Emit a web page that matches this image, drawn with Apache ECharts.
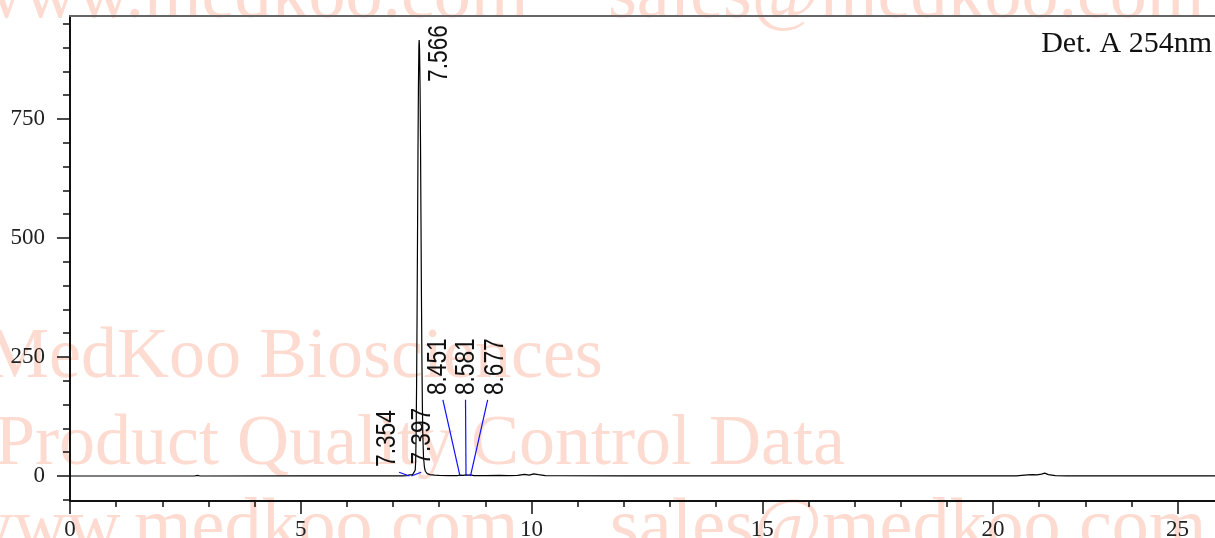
<!DOCTYPE html>
<html><head><meta charset="utf-8">
<script src="https://cdn.jsdelivr.net/npm/echarts@6/dist/echarts.min.js"></script>
<style>html,body{margin:0;padding:0;background:#fff}#c{width:1215px;height:538px}</style>
</head><body><div id="c"></div>
<script>
// Chromatogram trace (retention time in min, absorbance in mAU)
const retentionTimes = [0, 2.70, 2.76, 2.82, 5.0, 7.20, 7.30, 7.354, 7.375, 7.397, 7.42, 7.44, 7.46, 7.48, 7.49, 7.50, 7.51, 7.52, 7.53, 7.54, 7.55, 7.56, 7.566, 7.575, 7.585, 7.595, 7.605, 7.615, 7.625, 7.635, 7.645, 7.66, 7.68, 7.70, 7.74, 7.80, 7.90, 8.00, 8.20, 8.40, 8.451, 8.52, 8.581, 8.63, 8.677, 8.75, 9.00, 9.30, 9.50, 9.70, 9.85, 9.95, 10.05, 10.15, 10.30, 10.60, 12.0, 16.0, 20.5, 20.75, 20.85, 20.95, 21.05, 21.12, 21.20, 21.35, 21.60, 24.81];
const absorbance = [0, 0, 1.2, 0, 0.2, 0.3, 0.5, 2.5, 1.5, 3.0, 2.5, 4, 6, 12, 30, 90, 190, 330, 500, 680, 820, 905, 916, 895, 820, 700, 540, 380, 250, 150, 85, 40, 18, 10, 5, 3, 2, 1.5, 1, 1, 2, 1.5, 2.5, 1.8, 2.2, 1, 0.8, 1.2, 1, 1.5, 3.5, 2, 4.5, 3, 1, 0.5, 0.3, 0.2, 0.3, 2.5, 3, 2.5, 4, 6, 3, 1, 0.4, 0.3];

// Peak annotations
const peakRT = [7.354, 7.397, 7.566, 8.451, 8.581, 8.677];
const peakLabels = ['7.354', '7.397', '7.566', '8.451', '8.581', '8.677'];
const peakLabelX = [6.89, 7.63, 8.00, 7.99, 8.59, 9.21];
const peakLabelY = [19, 24, 828, 170, 170, 170];
const peakLineX = [7.13, 7.61, null, 8.08, 8.57, 9.05];
const peakLineY = [8, 8, null, 160, 160, 160];

// Axis ticks
const xTickValues = [0, 5, 10, 15, 20, 24];
const xTickLabels = ['0', '5', '10', '15', '20', '25'];
const xMinorTicks = [1, 2, 3, 4, 6, 7, 8, 9, 11, 12, 13, 14, 16, 17, 18, 19, 21, 22, 23];
const yTickValues = [0, 250, 500, 750];
const yMinorTicks = [-50, 50, 100, 150, 200, 300, 350, 400, 450, 550, 600, 650, 700, 800, 850, 900, 950];

const detectorLabel = 'Det. A 254nm';
const watermarkTexts = ['www.medkoo.com', 'sales@medkoo.com', 'MedKoo Biosciences', 'Product Quality Control Data'];

const X_MIN = 0, X_MAX = 24.81, Y_MIN = -52.5, Y_MAX = 966.4;
const serif = "'Liberation Serif', 'Times New Roman', serif";
const wmColor = '#fddbd1';
const wmFont = "72px 'Liberation Serif', serif";
const wmFontEdge = "74px 'Liberation Serif', serif";

const chart = echarts.init(document.getElementById('c'), null, {renderer: 'canvas'});
const option = {
  animation: false,
  backgroundColor: '#fff',
  grid: {left: 70, top: 16, right: 0, bottom: 37, containLabel: false, outerBoundsMode: 'none'},
  graphic: [
    {type: 'text', x: -30, y: -2.5, z: -10, style: {text: watermarkTexts[0], font: wmFontEdge, fill: wmColor, align: 'left', verticalAlign: 'middle'}},
    {type: 'text', x: 608, y: -2.5, z: -10, style: {text: watermarkTexts[1], font: wmFontEdge, fill: wmColor, align: 'left', verticalAlign: 'middle'}},
    {type: 'text', x: -15, y: 358.5, z: -10, style: {text: watermarkTexts[2], font: wmFont, fill: wmColor, align: 'left', verticalAlign: 'middle'}},
    {type: 'text', x: -5, y: 445.5, z: -10, style: {text: watermarkTexts[3], font: wmFont, fill: wmColor, align: 'left', verticalAlign: 'middle'}},
    {type: 'text', x: -40, y: 530, z: -10, style: {text: watermarkTexts[0], font: wmFontEdge, fill: wmColor, align: 'left', verticalAlign: 'middle'}},
    {type: 'text', x: 610, y: 530, z: -10, style: {text: watermarkTexts[1], font: wmFontEdge, fill: wmColor, align: 'left', verticalAlign: 'middle'}},
    {type: 'text', x: 1212, y: 44, z: 10, style: {text: detectorLabel, font: "30px 'Liberation Serif', serif", fill: '#111', align: 'right', verticalAlign: 'middle'}}
  ],
  xAxis: [
    {type: 'value', min: X_MIN, max: X_MAX, position: 'bottom',
     axisLine: {show: true, onZero: false, lineStyle: {color: '#111', width: 2}},
     axisTick: {show: true, customValues: xTickValues, length: 13, lineStyle: {color: '#111', width: 1.5}},
     axisLabel: {show: true, customValues: xTickValues, margin: 17, fontFamily: serif, fontSize: 23, color: '#222',
       formatter: v => xTickLabels[xTickValues.indexOf(v)]},
     splitLine: {show: false}},
    {type: 'value', min: X_MIN, max: X_MAX, position: 'bottom',
     axisLine: {show: false, onZero: false},
     axisTick: {show: true, customValues: xMinorTicks, length: 6, lineStyle: {color: '#111', width: 1.5}},
     axisLabel: {show: false}, splitLine: {show: false}},
    {type: 'value', min: X_MIN, max: X_MAX, position: 'top',
     axisLine: {show: true, onZero: false, lineStyle: {color: '#666', width: 2}},
     axisTick: {show: false}, axisLabel: {show: false}, splitLine: {show: false}}
  ],
  yAxis: [
    {type: 'value', min: Y_MIN, max: Y_MAX, position: 'left',
     axisLine: {show: true, onZero: false, lineStyle: {color: '#111', width: 2}},
     axisTick: {show: true, customValues: yTickValues, length: 13, lineStyle: {color: '#111', width: 1.5}},
     axisLabel: {show: true, customValues: yTickValues, margin: 25, fontFamily: serif, fontSize: 23, color: '#222'},
     splitLine: {show: false}},
    {type: 'value', min: Y_MIN, max: Y_MAX, position: 'left',
     axisLine: {show: false, onZero: false},
     axisTick: {show: true, customValues: yMinorTicks, length: 7, lineStyle: {color: '#111', width: 1.5}},
     axisLabel: {show: false}, splitLine: {show: false}}
  ],
  series: [
    {type: 'line', xAxisIndex: 0, yAxisIndex: 0, z: 3,
     data: retentionTimes.map((t, i) => [t, absorbance[i]]),
     showSymbol: false, symbol: 'none', lineStyle: {color: '#000', width: 1.2}},
    {type: 'custom', xAxisIndex: 0, yAxisIndex: 0, z: 4,
     data: peakRT.map((rt, i) => [peakLabelX[i], peakLabelY[i], rt]),
     renderItem: function (params, api) {
       const i = params.dataIndex;
       const children = [];
       const lp = api.coord([peakLabelX[i], peakLabelY[i]]);
       if (peakLineX[i] !== null) {
         const s = api.coord([peakLineX[i], peakLineY[i]]);
         const e = api.coord([peakRT[i], 0]);
         children.push({type: 'line', shape: {x1: s[0], y1: s[1], x2: e[0], y2: e[1]},
           style: {stroke: '#1010ff', lineWidth: 1.2}});
       }
       children.push({type: 'text', x: lp[0], y: lp[1], rotation: Math.PI / 2, scaleX: 0.84,
         style: {text: peakLabels[i], font: "27px 'Liberation Sans', Arial, sans-serif",
           fill: '#111', align: 'left', verticalAlign: 'middle'}});
       return {type: 'group', children: children};
     }}
  ]
};
chart.setOption(option);
</script>
</body></html>
